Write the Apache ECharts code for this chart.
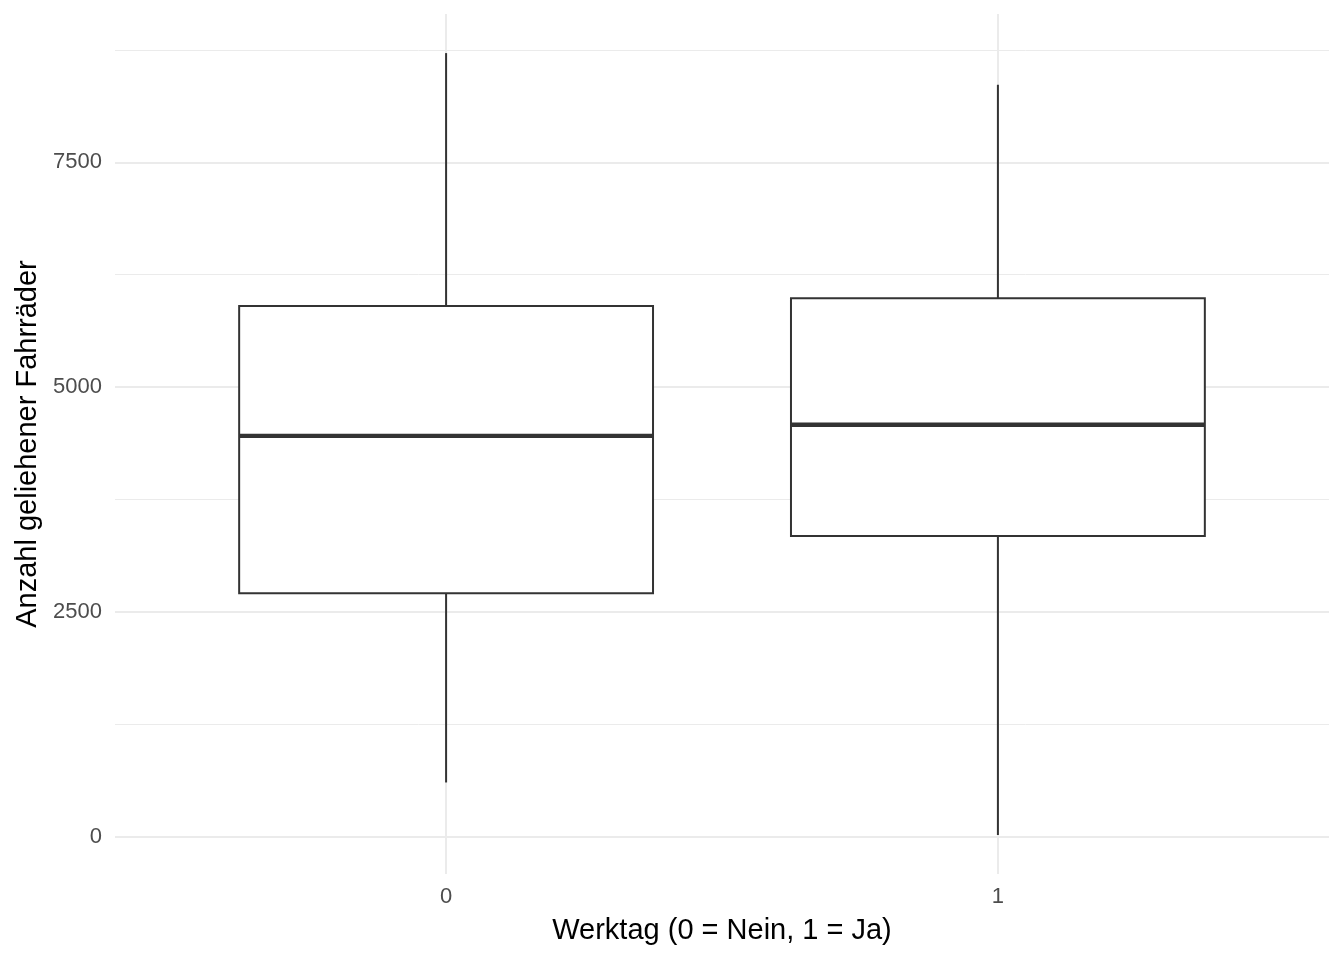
<!DOCTYPE html>
<html>
<head>
<meta charset="utf-8">
<script src="https://cdn.jsdelivr.net/npm/echarts@6/dist/echarts.min.js"></script>
<style>html,body{margin:0;padding:0;background:#fff}#c{width:1344px;height:960px}</style>
</head>
<body>
<div id="c"></div>
<script>
const categories = ['0', '1'];
const whiskerLow = [605, 22];
const q1 = [2710, 3345];
const median = [4459, 4582];
const q3 = [5903, 5988];
const whiskerHigh = [8714, 8362];
const yTicks = [0, 2500, 5000, 7500];
const yMinorTicks = [1250, 3750, 6250, 8750];

const FONT = '"Liberation Sans", Arial, sans-serif';
const chart = echarts.init(document.getElementById('c'), null, {renderer: 'canvas'});

const boxData = categories.map((c, i) => [i, whiskerLow[i], q1[i], median[i], q3[i], whiskerHigh[i]]);
const halfW = 0.375;

function renderItem(params, api) {
  const x = api.value(0);
  const lo = api.value(1), a = api.value(2), m = api.value(3), b = api.value(4), hi = api.value(5);
  const pLo = api.coord([x, lo]);
  const pHi = api.coord([x, hi]);
  const pA = api.coord([x, a]);
  const pB = api.coord([x, b]);
  const left = api.coord([x - halfW, m])[0];
  const right = api.coord([x + halfW, m])[0];
  const pM = api.coord([x, m]);
  const stroke = '#333333';
  return {
    type: 'group',
    children: [
      {type: 'line', shape: {x1: pB[0], y1: pB[1], x2: pHi[0], y2: pHi[1]}, style: {stroke, lineWidth: 2}},
      {type: 'line', shape: {x1: pA[0], y1: pA[1], x2: pLo[0], y2: pLo[1]}, style: {stroke, lineWidth: 2}},
      {type: 'rect', shape: {x: left, y: pB[1], width: right - left, height: pA[1] - pB[1]}, style: {fill: '#ffffff', stroke, lineWidth: 2}},
      {type: 'line', shape: {x1: left, y1: pM[1], x2: right, y2: pM[1]}, style: {stroke, lineWidth: 4.3}}
    ]
  };
}

const option = {
  backgroundColor: '#ffffff',
  animation: false,
  grid: {left: 115, right: 15, top: 14, bottom: 86, containLabel: false},
  xAxis: {
    type: 'value',
    min: -0.6, max: 1.6,
    name: 'Werktag (0 = Nein, 1 = Ja)',
    nameLocation: 'middle',
    nameGap: 42,
    nameTextStyle: {fontFamily: FONT, fontSize: 29, color: '#000000', verticalAlign: 'top'},
    axisLine: {show: false},
    axisTick: {show: false},
    splitLine: {show: false},
    axisLabel: {
      customValues: [0, 1],
      formatter: v => categories[Math.round(v)],
      fontFamily: FONT, fontSize: 22, color: '#4D4D4D', margin: 12
    }
  },
  yAxis: {
    type: 'value',
    min: -412.6, max: 9148.6,
    name: 'Anzahl geliehener Fahrräder',
    nameLocation: 'middle',
    nameGap: 73,
    nameTextStyle: {fontFamily: FONT, fontSize: 29, color: '#000000'},
    axisLine: {show: false},
    axisTick: {show: false},
    splitLine: {show: false},
    axisLabel: {
      customValues: yTicks,
      formatter: v => String(Math.round(v)),
      fontFamily: FONT, fontSize: 22, color: '#4D4D4D', margin: 13,
      padding: [3, 0, 0, 0]
    }
  },
  series: [
    {
      type: 'line',
      data: [],
      silent: true,
      markLine: {
        silent: true,
        symbol: 'none',
        label: {show: false},
        animation: false,
        data: [
          ...yMinorTicks.map(v => ({yAxis: v, lineStyle: {color: '#EBEBEB', width: 1, type: 'solid'}})),
          ...yTicks.map(v => ({yAxis: v, lineStyle: {color: '#EBEBEB', width: 2, type: 'solid'}})),
          ...categories.map((c, i) => ({xAxis: i, lineStyle: {color: '#EBEBEB', width: 2, type: 'solid'}}))
        ]
      }
    },
    {
      type: 'custom',
      renderItem: renderItem,
      encode: {x: 0, y: [1, 2, 3, 4, 5]},
      data: boxData,
      z: 5
    }
  ]
};
chart.setOption(option);
</script>
</body>
</html>
